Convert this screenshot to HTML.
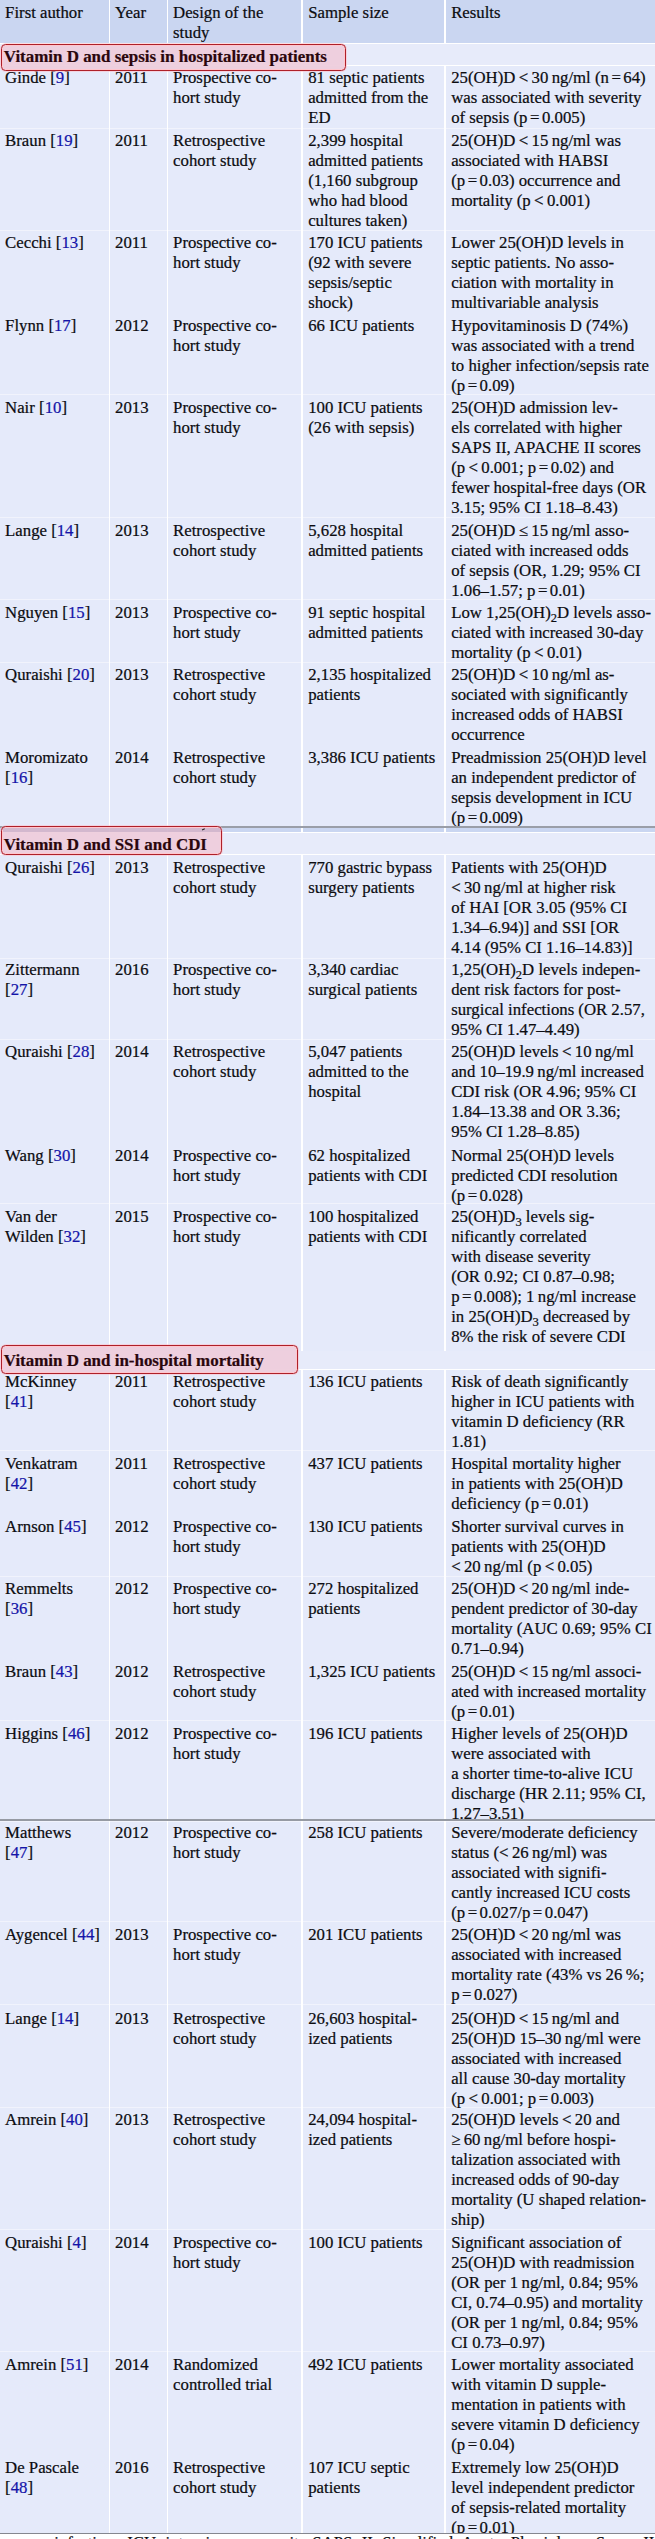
<!DOCTYPE html><html><head><meta charset="utf-8"><title>Table</title><style>
html,body{margin:0;padding:0}
body{width:655px;height:2539px;overflow:hidden;background:#e5eafa;position:relative;font-family:"Liberation Serif",serif;font-size:16.75px;line-height:20.0px;color:#0c0c10;-webkit-text-stroke:0.22px #0c0c10}
div{position:absolute}
.hd{left:0;width:655px;background:#cad6f1}
.w{left:0;width:655px;background:#fff}
.sp{left:0;width:655px;height:1px;background:rgba(255,255,255,.45)}
.v{width:1.3px;background:#fff}
.sr{left:0;width:655px;background:#e7ebfa}
.t{white-space:nowrap}
.r{color:#1414a8;-webkit-text-stroke:0.22px #1414a8}
.s{left:1px;box-sizing:border-box;border:1.3px solid #ae2029;border-radius:4.5px;background:rgba(238,204,220,.93);box-shadow:inset 0 0 0 1px #ffc6ce,0 0 0 0.8px rgba(255,190,200,.7)}
.st{left:3.8px;font-size:16.95px;font-weight:bold;color:#2a060c;-webkit-text-stroke:0.2px #2a060c;white-space:nowrap}
sub{font-size:12.5px;line-height:0;vertical-align:-4px}
.q{margin:0 2.5px}
.seam{left:0;width:655px;background:#9fa3ad}
.foot{left:0;top:2533px;width:655px;height:6px;background:#fff;overflow:hidden;border-top:1.5px solid #85878f}
</style></head><body>
<div class="hd" style="top:0;height:43px"></div>
<div class="v" style="left:108.65px;top:0;height:2533px"></div>
<div class="v" style="left:166.65px;top:0;height:2533px"></div>
<div class="v" style="left:301.25px;top:0;height:2533px"></div>
<div class="v" style="left:444.25px;top:0;height:2533px"></div>
<div class="w" style="top:43px;height:1.1px"></div>
<div class="sp" style="top:127.7px"></div>
<div class="sp" style="top:229.7px"></div>
<div class="sp" style="top:394.3px"></div>
<div class="sp" style="top:517.1px"></div>
<div class="sp" style="top:598.9px"></div>
<div class="sp" style="top:661.5px"></div>
<div class="sp" style="top:958.2px"></div>
<div class="sp" style="top:1038.6px"></div>
<div class="sp" style="top:1202.9px"></div>
<div class="sp" style="top:1450.3px"></div>
<div class="sp" style="top:1575.6px"></div>
<div class="sp" style="top:1720.2px"></div>
<div class="sp" style="top:1921.4px"></div>
<div class="sp" style="top:2003.7px"></div>
<div class="sp" style="top:2106.9px"></div>
<div class="sp" style="top:2229.4px"></div>
<div class="sp" style="top:2351.0px"></div>
<div class="t" style="left:5.1px;top:2.90px">First author</div>
<div class="t" style="left:115.1px;top:2.90px">Year</div>
<div class="t" style="left:173.1px;top:2.90px">Design of the<br>study</div>
<div class="t" style="left:308.2px;top:2.90px">Sample size</div>
<div class="t" style="left:451.2px;top:2.90px">Results</div>
<div class="t" style="left:5.1px;top:68.00px">Ginde [<span class="r">9</span>]</div>
<div class="t" style="left:115.1px;top:68.00px">2011</div>
<div class="t" style="left:173.1px;top:68.00px">Prospective co-<br>hort study</div>
<div class="t" style="left:308.2px;top:68.00px">81 septic patients<br>admitted from the<br>ED</div>
<div class="t" style="left:451.2px;top:68.00px">25(OH)D&thinsp;&lt;&thinsp;30&thinsp;ng/ml (n<span class="q">=</span>64)<br>was associated with severity<br>of sepsis (p<span class="q">=</span>0.005)</div>
<div class="t" style="left:5.1px;top:130.90px">Braun [<span class="r">19</span>]</div>
<div class="t" style="left:115.1px;top:130.90px">2011</div>
<div class="t" style="left:173.1px;top:130.90px">Retrospective<br>cohort study</div>
<div class="t" style="left:308.2px;top:130.90px">2,399 hospital<br>admitted patients<br>(1,160 subgroup<br>who had blood<br>cultures taken)</div>
<div class="t" style="left:451.2px;top:130.90px">25(OH)D&thinsp;&lt;&thinsp;15&thinsp;ng/ml was<br>associated with HABSI<br>(p<span class="q">=</span>0.03) occurrence and<br>mortality (p&thinsp;&lt;&thinsp;0.001)</div>
<div class="t" style="left:5.1px;top:233.10px">Cecchi [<span class="r">13</span>]</div>
<div class="t" style="left:115.1px;top:233.10px">2011</div>
<div class="t" style="left:173.1px;top:233.10px">Prospective co-<br>hort study</div>
<div class="t" style="left:308.2px;top:233.10px">170 ICU patients<br>(92 with severe<br>sepsis/septic<br>shock)</div>
<div class="t" style="left:451.2px;top:233.10px">Lower 25(OH)D levels in<br>septic patients. No asso-<br>ciation with mortality in<br>multivariable analysis</div>
<div class="t" style="left:5.1px;top:316.30px">Flynn [<span class="r">17</span>]</div>
<div class="t" style="left:115.1px;top:316.30px">2012</div>
<div class="t" style="left:173.1px;top:316.30px">Prospective co-<br>hort study</div>
<div class="t" style="left:308.2px;top:316.30px">66 ICU patients</div>
<div class="t" style="left:451.2px;top:316.30px">Hypovitaminosis D (74%)<br>was associated with a trend<br>to higher infection/sepsis rate<br>(p<span class="q">=</span>0.09)</div>
<div class="t" style="left:5.1px;top:398.30px">Nair [<span class="r">10</span>]</div>
<div class="t" style="left:115.1px;top:398.30px">2013</div>
<div class="t" style="left:173.1px;top:398.30px">Prospective co-<br>hort study</div>
<div class="t" style="left:308.2px;top:398.30px">100 ICU patients<br>(26 with sepsis)</div>
<div class="t" style="left:451.2px;top:398.30px">25(OH)D admission lev-<br>els correlated with higher<br>SAPS II, APACHE II scores<br>(p&thinsp;&lt;&thinsp;0.001; p<span class="q">=</span>0.02) and<br>fewer hospital-free days (OR<br>3.15; 95% CI 1.18–8.43)</div>
<div class="t" style="left:5.1px;top:521.00px">Lange [<span class="r">14</span>]</div>
<div class="t" style="left:115.1px;top:521.00px">2013</div>
<div class="t" style="left:173.1px;top:521.00px">Retrospective<br>cohort study</div>
<div class="t" style="left:308.2px;top:521.00px">5,628 hospital<br>admitted patients</div>
<div class="t" style="left:451.2px;top:521.00px">25(OH)D&thinsp;≤&thinsp;15&thinsp;ng/ml asso-<br>ciated with increased odds<br>of sepsis (OR, 1.29; 95% CI<br>1.06–1.57; p<span class="q">=</span>0.01)</div>
<div class="t" style="left:5.1px;top:602.90px">Nguyen [<span class="r">15</span>]</div>
<div class="t" style="left:115.1px;top:602.90px">2013</div>
<div class="t" style="left:173.1px;top:602.90px">Prospective co-<br>hort study</div>
<div class="t" style="left:308.2px;top:602.90px">91 septic hospital<br>admitted patients</div>
<div class="t" style="left:451.2px;top:602.90px">Low 1,25(OH)<sub>2</sub>D levels asso-<br>ciated with increased 30-day<br>mortality (p&thinsp;&lt;&thinsp;0.01)</div>
<div class="t" style="left:5.1px;top:665.30px">Quraishi [<span class="r">20</span>]</div>
<div class="t" style="left:115.1px;top:665.30px">2013</div>
<div class="t" style="left:173.1px;top:665.30px">Retrospective<br>cohort study</div>
<div class="t" style="left:308.2px;top:665.30px">2,135 hospitalized<br>patients</div>
<div class="t" style="left:451.2px;top:665.30px">25(OH)D&thinsp;&lt;&thinsp;10&thinsp;ng/ml as-<br>sociated with significantly<br>increased odds of HABSI<br>occurrence</div>
<div class="t" style="left:5.1px;top:747.80px">Moromizato<br>[<span class="r">16</span>]</div>
<div class="t" style="left:115.1px;top:747.80px">2014</div>
<div class="t" style="left:173.1px;top:747.80px">Retrospective<br>cohort study</div>
<div class="t" style="left:308.2px;top:747.80px">3,386 ICU patients</div>
<div class="t" style="left:451.2px;top:747.80px">Preadmission 25(OH)D level<br>an independent predictor of<br>sepsis development in ICU<br>(p<span class="q">=</span>0.009)</div>
<div class="t" style="left:5.1px;top:858.20px">Quraishi [<span class="r">26</span>]</div>
<div class="t" style="left:115.1px;top:858.20px">2013</div>
<div class="t" style="left:173.1px;top:858.20px">Retrospective<br>cohort study</div>
<div class="t" style="left:308.2px;top:858.20px">770 gastric bypass<br>surgery patients</div>
<div class="t" style="left:451.2px;top:858.20px">Patients with 25(OH)D<br>&lt;&thinsp;30&thinsp;ng/ml at higher risk<br>of HAI [OR 3.05 (95% CI<br>1.34–6.94)] and SSI [OR<br>4.14 (95% CI 1.16–14.83)]</div>
<div class="t" style="left:5.1px;top:960.20px">Zittermann<br>[<span class="r">27</span>]</div>
<div class="t" style="left:115.1px;top:960.20px">2016</div>
<div class="t" style="left:173.1px;top:960.20px">Prospective co-<br>hort study</div>
<div class="t" style="left:308.2px;top:960.20px">3,340 cardiac<br>surgical patients</div>
<div class="t" style="left:451.2px;top:960.20px">1,25(OH)<sub>2</sub>D levels indepen-<br>dent risk factors for post-<br>surgical infections (OR 2.57,<br>95% CI 1.47–4.49)</div>
<div class="t" style="left:5.1px;top:1042.40px">Quraishi [<span class="r">28</span>]</div>
<div class="t" style="left:115.1px;top:1042.40px">2014</div>
<div class="t" style="left:173.1px;top:1042.40px">Retrospective<br>cohort study</div>
<div class="t" style="left:308.2px;top:1042.40px">5,047 patients<br>admitted to the<br>hospital</div>
<div class="t" style="left:451.2px;top:1042.40px">25(OH)D levels&thinsp;&lt;&thinsp;10&thinsp;ng/ml<br>and 10–19.9&thinsp;ng/ml increased<br>CDI risk (OR 4.96; 95% CI<br>1.84–13.38 and OR 3.36;<br>95% CI 1.28–8.85)</div>
<div class="t" style="left:5.1px;top:1145.70px">Wang [<span class="r">30</span>]</div>
<div class="t" style="left:115.1px;top:1145.70px">2014</div>
<div class="t" style="left:173.1px;top:1145.70px">Prospective co-<br>hort study</div>
<div class="t" style="left:308.2px;top:1145.70px">62 hospitalized<br>patients with CDI</div>
<div class="t" style="left:451.2px;top:1145.70px">Normal 25(OH)D levels<br>predicted CDI resolution<br>(p<span class="q">=</span>0.028)</div>
<div class="t" style="left:5.1px;top:1207.20px">Van der<br>Wilden [<span class="r">32</span>]</div>
<div class="t" style="left:115.1px;top:1207.20px">2015</div>
<div class="t" style="left:173.1px;top:1207.20px">Prospective co-<br>hort study</div>
<div class="t" style="left:308.2px;top:1207.20px">100 hospitalized<br>patients with CDI</div>
<div class="t" style="left:451.2px;top:1207.20px">25(OH)D<sub>3</sub> levels sig-<br>nificantly correlated<br>with disease severity<br>(OR 0.92; CI 0.87–0.98;<br>p<span class="q">=</span>0.008); 1&thinsp;ng/ml increase<br>in 25(OH)D<sub>3</sub> decreased by<br>8% the risk of severe CDI</div>
<div class="t" style="left:5.1px;top:1371.80px">McKinney<br>[<span class="r">41</span>]</div>
<div class="t" style="left:115.1px;top:1371.80px">2011</div>
<div class="t" style="left:173.1px;top:1371.80px">Retrospective<br>cohort study</div>
<div class="t" style="left:308.2px;top:1371.80px">136 ICU patients</div>
<div class="t" style="left:451.2px;top:1371.80px">Risk of death significantly<br>higher in ICU patients with<br>vitamin D deficiency (RR<br>1.81)</div>
<div class="t" style="left:5.1px;top:1454.10px">Venkatram<br>[<span class="r">42</span>]</div>
<div class="t" style="left:115.1px;top:1454.10px">2011</div>
<div class="t" style="left:173.1px;top:1454.10px">Retrospective<br>cohort study</div>
<div class="t" style="left:308.2px;top:1454.10px">437 ICU patients</div>
<div class="t" style="left:451.2px;top:1454.10px">Hospital mortality higher<br>in patients with 25(OH)D<br>deficiency (p<span class="q">=</span>0.01)</div>
<div class="t" style="left:5.1px;top:1517.10px">Arnson [<span class="r">45</span>]</div>
<div class="t" style="left:115.1px;top:1517.10px">2012</div>
<div class="t" style="left:173.1px;top:1517.10px">Prospective co-<br>hort study</div>
<div class="t" style="left:308.2px;top:1517.10px">130 ICU patients</div>
<div class="t" style="left:451.2px;top:1517.10px">Shorter survival curves in<br>patients with 25(OH)D<br>&lt;&thinsp;20&thinsp;ng/ml (p&thinsp;&lt;&thinsp;0.05)</div>
<div class="t" style="left:5.1px;top:1578.90px">Remmelts<br>[<span class="r">36</span>]</div>
<div class="t" style="left:115.1px;top:1578.90px">2012</div>
<div class="t" style="left:173.1px;top:1578.90px">Prospective co-<br>hort study</div>
<div class="t" style="left:308.2px;top:1578.90px">272 hospitalized<br>patients</div>
<div class="t" style="left:451.2px;top:1578.90px">25(OH)D&thinsp;&lt;&thinsp;20&thinsp;ng/ml inde-<br>pendent predictor of 30-day<br>mortality (AUC 0.69; 95% CI<br>0.71–0.94)</div>
<div class="t" style="left:5.1px;top:1662.00px">Braun [<span class="r">43</span>]</div>
<div class="t" style="left:115.1px;top:1662.00px">2012</div>
<div class="t" style="left:173.1px;top:1662.00px">Retrospective<br>cohort study</div>
<div class="t" style="left:308.2px;top:1662.00px">1,325 ICU patients</div>
<div class="t" style="left:451.2px;top:1662.00px">25(OH)D&thinsp;&lt;&thinsp;15&thinsp;ng/ml associ-<br>ated with increased mortality<br>(p<span class="q">=</span>0.01)</div>
<div class="t" style="left:5.1px;top:1723.90px">Higgins [<span class="r">46</span>]</div>
<div class="t" style="left:115.1px;top:1723.90px">2012</div>
<div class="t" style="left:173.1px;top:1723.90px">Prospective co-<br>hort study</div>
<div class="t" style="left:308.2px;top:1723.90px">196 ICU patients</div>
<div class="t" style="left:451.2px;top:1723.90px">Higher levels of 25(OH)D<br>were associated with<br>a shorter time-to-alive ICU<br>discharge (HR 2.11; 95% CI,<br>1.27–3.51)</div>
<div class="t" style="left:5.1px;top:1823.40px">Matthews<br>[<span class="r">47</span>]</div>
<div class="t" style="left:115.1px;top:1823.40px">2012</div>
<div class="t" style="left:173.1px;top:1823.40px">Prospective co-<br>hort study</div>
<div class="t" style="left:308.2px;top:1823.40px">258 ICU patients</div>
<div class="t" style="left:451.2px;top:1823.40px">Severe/moderate deficiency<br>status (&lt;&thinsp;26&thinsp;ng/ml) was<br>associated with signifi-<br>cantly increased ICU costs<br>(p<span class="q">=</span>0.027/p<span class="q">=</span>0.047)</div>
<div class="t" style="left:5.1px;top:1925.20px">Aygencel [<span class="r">44</span>]</div>
<div class="t" style="left:115.1px;top:1925.20px">2013</div>
<div class="t" style="left:173.1px;top:1925.20px">Prospective co-<br>hort study</div>
<div class="t" style="left:308.2px;top:1925.20px">201 ICU patients</div>
<div class="t" style="left:451.2px;top:1925.20px">25(OH)D&thinsp;&lt;&thinsp;20&thinsp;ng/ml was<br>associated with increased<br>mortality rate (43% vs 26&thinsp;%;<br>p<span class="q">=</span>0.027)</div>
<div class="t" style="left:5.1px;top:2008.60px">Lange [<span class="r">14</span>]</div>
<div class="t" style="left:115.1px;top:2008.60px">2013</div>
<div class="t" style="left:173.1px;top:2008.60px">Retrospective<br>cohort study</div>
<div class="t" style="left:308.2px;top:2008.60px">26,603 hospital-<br>ized patients</div>
<div class="t" style="left:451.2px;top:2008.60px">25(OH)D&thinsp;&lt;&thinsp;15&thinsp;ng/ml and<br>25(OH)D 15–30&thinsp;ng/ml were<br>associated with increased<br>all cause 30-day mortality<br>(p&thinsp;&lt;&thinsp;0.001; p<span class="q">=</span>0.003)</div>
<div class="t" style="left:5.1px;top:2110.30px">Amrein [<span class="r">40</span>]</div>
<div class="t" style="left:115.1px;top:2110.30px">2013</div>
<div class="t" style="left:173.1px;top:2110.30px">Retrospective<br>cohort study</div>
<div class="t" style="left:308.2px;top:2110.30px">24,094 hospital-<br>ized patients</div>
<div class="t" style="left:451.2px;top:2110.30px">25(OH)D levels&thinsp;&lt;&thinsp;20 and<br>≥&thinsp;60&thinsp;ng/ml before hospi-<br>talization associated with<br>increased odds of 90-day<br>mortality (U shaped relation-<br>ship)</div>
<div class="t" style="left:5.1px;top:2233.20px">Quraishi [<span class="r">4</span>]</div>
<div class="t" style="left:115.1px;top:2233.20px">2014</div>
<div class="t" style="left:173.1px;top:2233.20px">Prospective co-<br>hort study</div>
<div class="t" style="left:308.2px;top:2233.20px">100 ICU patients</div>
<div class="t" style="left:451.2px;top:2233.20px">Significant association of<br>25(OH)D with readmission<br>(OR per 1&thinsp;ng/ml, 0.84; 95%<br>CI, 0.74–0.95) and mortality<br>(OR per 1&thinsp;ng/ml, 0.84; 95%<br>CI 0.73–0.97)</div>
<div class="t" style="left:5.1px;top:2355.30px">Amrein [<span class="r">51</span>]</div>
<div class="t" style="left:115.1px;top:2355.30px">2014</div>
<div class="t" style="left:173.1px;top:2355.30px">Randomized<br>controlled trial</div>
<div class="t" style="left:308.2px;top:2355.30px">492 ICU patients</div>
<div class="t" style="left:451.2px;top:2355.30px">Lower mortality associated<br>with vitamin D supple-<br>mentation in patients with<br>severe vitamin D deficiency<br>(p<span class="q">=</span>0.04)</div>
<div class="t" style="left:5.1px;top:2458.40px">De Pascale<br>[<span class="r">48</span>]</div>
<div class="t" style="left:115.1px;top:2458.40px">2016</div>
<div class="t" style="left:173.1px;top:2458.40px">Retrospective<br>cohort study</div>
<div class="t" style="left:308.2px;top:2458.40px">107 ICU septic<br>patients</div>
<div class="t" style="left:451.2px;top:2458.40px">Extremely low 25(OH)D<br>level independent predictor<br>of sepsis-related mortality<br>(p<span class="q">=</span>0.01)</div>
<div class="sr" style="top:44.1px;height:21px"></div><div class="w" style="top:65px;height:1.2px"></div>
<div class="seam" style="top:826.2px;height:2px;background:#9a9ea8"></div>
<div class="hd" style="top:828.1px;height:4px"></div>
<div class="v" style="left:108.65px;top:828px;height:4px"></div>
<div class="v" style="left:166.65px;top:828px;height:4px"></div>
<div class="v" style="left:301.25px;top:828px;height:4px"></div>
<div class="v" style="left:444.25px;top:828px;height:4px"></div>
<div class="w" style="top:832px;height:1.2px"></div>
<div class="sr" style="top:833.2px;height:21px"></div><div class="w" style="top:854px;height:1.1px"></div>
<div class="sr" style="top:1351px;height:18px"></div><div class="w" style="top:1369px;height:1.3px"></div>
<div style="left:446px;top:1820px;width:209px;height:5px;background:#e5eafa"></div>
<div class="seam" style="top:1819px;height:2px;background:#969aa3"></div><div class="sp" style="top:1821px"></div>
<div class="s" style="top:44.4px;height:26.6px;width:345.0px"></div>
<div class="st" style="top:46.70px">Vitamin D and sepsis in hospitalized patients</div>
<div class="s" style="top:825.7px;height:28.9px;width:220.8px"></div>
<div class="st" style="top:835.40px">Vitamin D and SSI and CDI</div>
<div class="s" style="top:1344.6px;height:29.0px;width:297.0px"></div>
<div class="st" style="top:1350.70px">Vitamin D and in-hospital mortality</div>
<div style="left:2.5px;top:827.5px;width:218px;height:4px;background:rgba(150,130,170,.28)"></div>
<div style="left:202px;top:828.6px;width:2.6px;height:1.4px;background:#222;transform:rotate(-25deg)"></div>
<div class="foot"><div class="t" style="left:54.2px;top:-0.6px;word-spacing:5.2px">infection, <span>ICU</span> intensive care unit, <span>SAPS II</span> Simplified Acute Physiology Score II, <span>SSI</span> surgical</div></div>
</body></html>
